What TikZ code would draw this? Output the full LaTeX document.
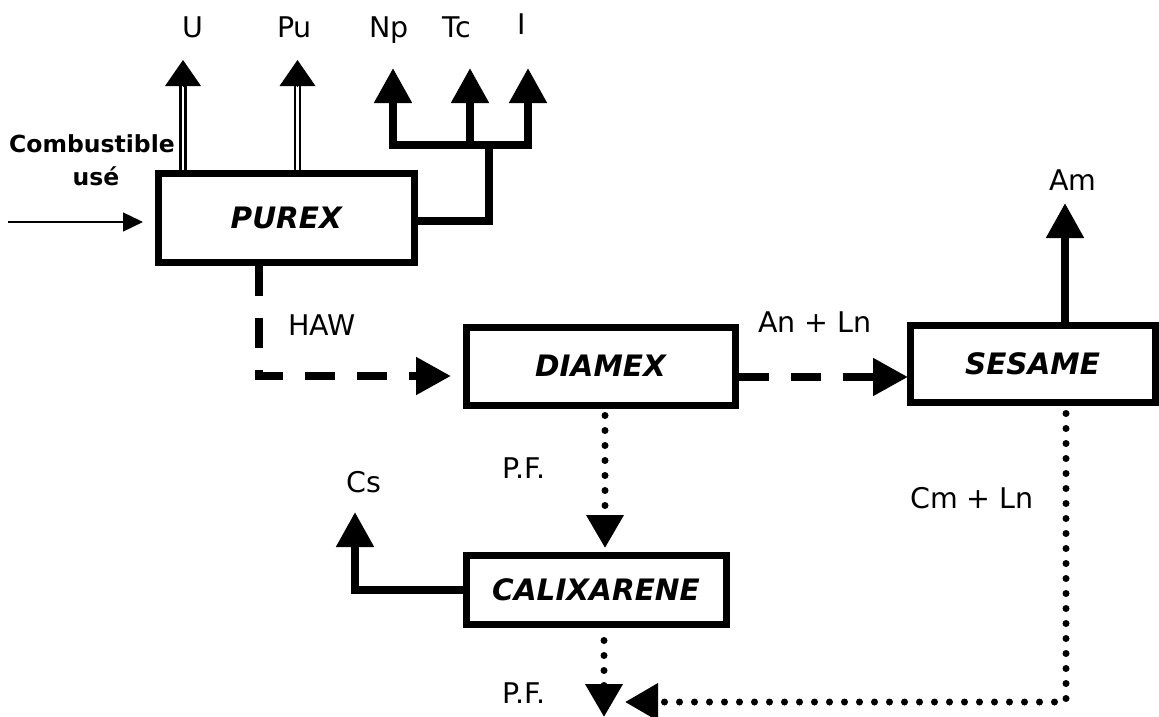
\documentclass[tikz,border=0pt]{standalone}
\usepackage{fontspec}
\setmainfont{DejaVu Sans}
\usetikzlibrary{arrows.meta,positioning}

\begin{document}
\begin{tikzpicture}[x=1pt,y=-1pt,
  box/.style={draw,line width=7pt,inner sep=0pt,font=\fontsize{29.5}{32}\selectfont\bfseries\itshape},
  tag/.style={inner sep=0pt,anchor=base,font=\fontsize{28.5}{32}\selectfont},
  fuel/.style={inner sep=0pt,anchor=base,font=\fontsize{23.5}{30}\selectfont\bfseries},
  bighead/.tip={Triangle[length=35pt,width=36pt]},
  dothead/.tip={Triangle[length=33pt,width=36pt]},
  pipehead/.tip={Triangle[length=26pt,width=36pt]},
  feedhead/.tip={Triangle[length=20pt,width=19pt]},
  feedline/.style={line width=1.4pt,-feedhead},
  heavy/.style={line width=8pt,-bighead},
  dashflow/.style={line width=8pt,dash pattern=on 30pt off 22pt,-bighead},
  dotflow/.style={line width=7pt,line cap=round,dash pattern=on 0pt off 15pt,-dothead},
  pipe/.style={double,line width=2.6pt,double distance=2.4pt}]
\useasboundingbox (0,0) rectangle (1159,717);

% units
\node[box,minimum width=255.5pt,minimum height=89pt] (purex) at (286.25,217.5) {PUREX};
\node[box,minimum width=269pt,minimum height=78pt] (diamex) at (600.5,366) {DIAMEX};
\node[box,minimum width=245pt,minimum height=77pt] (sesame) at (1032.5,363.5) {SESAME};
\node[box,minimum width=260pt,minimum height=69pt] (calix) at (596,589.5) {CALIXARENE};

% labels
\node[fuel] (fuel1) at (92,152) {Combustible};
\node[fuel] (fuel2) at (96,185) {usé};
\node[tag] (u) at (193,38) {U};
\node[tag] (pu) at (294.5,38) {Pu};
\node[tag] (np) at (389,38) {Np};
\node[tag] (tc) at (457,38) {Tc};
\node[tag] (io) at (522,35) {I};
\node[tag] (haw) at (322,335) {HAW};
\node[tag] (anln) at (815,332) {An + Ln};
\node[tag] (am) at (1073,190) {Am};
\node[tag] (pf1) at (524,478) {P.F.};
\node[tag] (cs) at (364,492) {Cs};
\node[tag] (cmln) at (972,508) {Cm + Ln};
\node[tag] (pf2) at (524,703) {P.F.};

% free ends
\coordinate (feed) at (8,222);
\coordinate (ubase) at (183,85); \coordinate (utip) at (183,60);
\coordinate (pubase) at (297.5,85); \coordinate (putip) at (297.5,60);
\coordinate (nptip) at (393,68); \coordinate (busl) at (393,145);
\coordinate (tctip) at (470,68); \coordinate (tcroot) at (470,145);
\coordinate (iotip) at (528,68); \coordinate (busr) at (528,145);
\coordinate (jn) at (489,221); \coordinate (busj) at (489,145);
\coordinate (hawx) at (259,300); \coordinate (hawtip) at (451,376);
\coordinate (antip) at (908,377);
\coordinate (amtip) at (1065,203);
\coordinate (pftip) at (605,548);
\coordinate (cstip) at (355,512);
\coordinate (pfout) at (604,717);
\coordinate (cmx) at (1066,450); \coordinate (cmtip) at (625,702);

% PUREX
\draw[feedline,shorten >=12pt] (feed) -- (feed -| purex.west);
\draw[pipe] (purex.north -| ubase) -- (ubase);
\draw[line width=0pt,-pipehead] (ubase) -- (utip);
\draw[pipe] (purex.north -| pubase) -- (pubase);
\draw[line width=0pt,-pipehead] (pubase) -- (putip);
\draw[line width=8pt] (purex.east |- jn) -- (jn) -- (busj);
\draw[line width=8pt,bighead-bighead] (nptip) -- (busl) -- (busr) -- (iotip);
\draw[heavy] (tcroot) -- (tctip);
\draw[dashflow] (purex.south -| hawx) |- (hawtip);

% DIAMEX, SESAME
\draw[dashflow] (diamex.east |- antip) -- (antip);
\draw[heavy] (sesame.north -| amtip) -- (amtip);
\draw[dotflow,shorten <=7pt] (diamex.south -| pftip) -- (pftip);
\draw[dotflow,shorten <=8pt] (sesame.south -| cmx) |- (cmtip);

% CALIXARENE
\draw[heavy] (calix.west) -| (cstip);
\draw[dotflow,shorten <=13pt] (calix.south -| pfout) -- (pfout);
\end{tikzpicture}
\end{document}
